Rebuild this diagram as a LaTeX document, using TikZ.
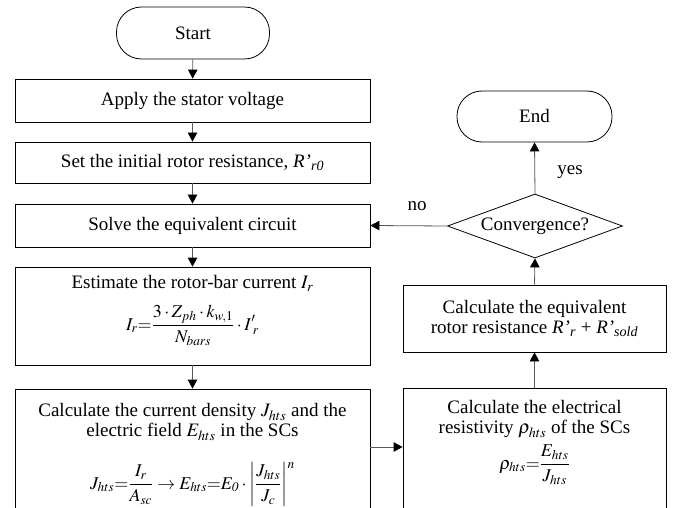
\documentclass[tikz,border=0pt]{standalone}
\usepackage{mathptmx}
\usepackage[no-math]{fontspec}
\setmainfont{Liberation Serif}
\usetikzlibrary{shapes.geometric,arrows.meta}
\tikzset{
  box/.style={draw=black, line width=0.8pt, inner sep=0pt, rectangle},
  term/.style={box, rounded corners=25pt},
  lbl/.style={inner sep=0pt, align=center, font=\fontsize{19}{20}\selectfont},
  frm/.style={inner sep=0pt, anchor=base, font=\fontsize{18}{20}\selectfont},
  conn/.style={draw=black!65, line width=0.8pt, -{Triangle[black,length=9pt,width=9.5pt]}}
}
\begin{document}
\begin{tikzpicture}[x=1pt,y=1pt]
\useasboundingbox (0,0) rectangle (686,-508);
\fill[white] (0,0) rectangle (686,-508);
% left column
\node[term, minimum width=153, minimum height=52] (start) at (193,-33) {};
\node[lbl] (startT) at (start.center) {Start};
\node[box, minimum width=355, minimum height=43] (b1) at (192.5,-100.5) {};
\node[lbl] (b1T) at (b1.center) {Apply the stator voltage};
\node[box, minimum width=355, minimum height=41] (b2) at (192.5,-162.5) {};
\node[lbl] (b2T) at (b2.center) {Set the initial rotor resistance, \textit{R’}\textsubscript{\textit{r0}}};
\node[box, minimum width=355, minimum height=43] (b3) at (192.5,-225.5) {};
\node[lbl] (b3T) at (b3.center) {Solve the equivalent circuit};
\node[box, minimum width=355, minimum height=98] (b4) at (192.5,-316) {};
\node[lbl] (b4T) at (192.5,-283) {Estimate the rotor-bar current $I_r$};
\node[frm] (b4F) at (192.5,-330) {$\displaystyle I_r{=}\frac{3\cdot Z_{ph}\cdot k_{w,1}}{N_{bars}}\cdot I^{\prime}_{\;r}$};
\node[box, minimum width=355, minimum height=141] (b5) at (192.5,-459.5) {};
\node[lbl] (b5T) at (192.5,-422) {Calculate the current density $J_{hts}$ and the\\ electric field $E_{hts}$ in the SCs};
\node[frm] (b5F) at (192.5,-489) {$\displaystyle J_{hts}{=}\frac{I_r}{A_{sc}}\rightarrow E_{hts}{=}E_{\mathit{0}}\cdot\left|\frac{J_{hts}}{J_c}\right|^{n}$};
% right column
\node[term, minimum width=155, minimum height=51] (end) at (534.5,-116.5) {};
\node[lbl] (endT) at (end.center) {End};
\node[diamond, draw=black, line width=0.8pt, inner sep=0pt, aspect=2.73, minimum width=175, minimum height=64] (conv) at (535,-226) {};
\node[lbl] (convT) at (conv.center) {Convergence?};
\node[box, minimum width=263, minimum height=67] (r1) at (534.5,-318.5) {};
\node[lbl] (r1T) at (r1.center) {Calculate the equivalent\\ rotor resistance \textit{R’}\textsubscript{\textit{r}} + \textit{R’}\textsubscript{\textit{sold}}};
\node[box, minimum width=263, minimum height=142] (r2) at (534.5,-459) {};
\node[lbl] (r2T) at (534.5,-419.5) {Calculate the electrical\\ resistivity $\rho_{hts}$ of the SCs};
\node[frm] (r2F) at (534.5,-469) {$\displaystyle \rho_{hts}{=}\frac{E_{hts}}{J_{hts}}$};
% connectors
\draw[conn] (start) -- (b1);
\draw[conn] (b1) -- (b2);
\draw[conn] (b2) -- (b3);
\draw[conn] (b3) -- (b4);
\draw[conn] (b4) -- (b5);
\draw[conn] ([yshift=12.5pt]b5.east) -- ([yshift=12.5pt]b5.east -| r2.west);
\draw[conn] (r2.north -| r1.south) -- (r1.south);
\draw[conn] (r1.north) -- (conv.south);
\draw[conn] (conv.north) -- (end.south);
\draw[conn] (conv.west) -- (b3.east);
\node[lbl] (no) at (417,-206) {no};
\node[lbl] (yes) at (570,-172) {yes};
\end{tikzpicture}
\end{document}
